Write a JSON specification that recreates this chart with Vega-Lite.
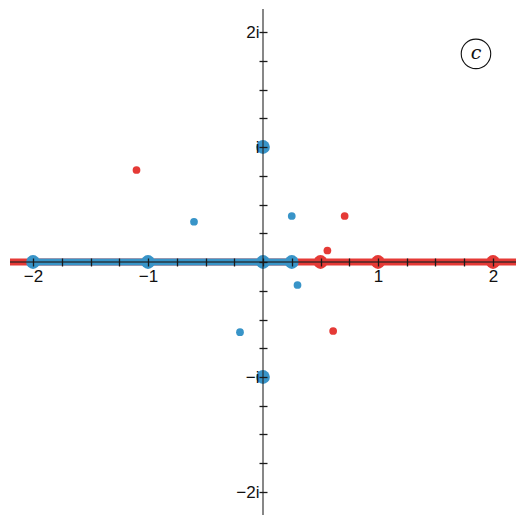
{
  "$schema": "https://vega.github.io/schema/vega-lite/v6.json",
  "width": 506,
  "height": 506,
  "autosize": {"type": "none"},
  "padding": {"left": 10, "top": 9, "right": 0, "bottom": 2},
  "background": "white",
  "config": {"view": {"stroke": null}, "axis": {"labelFontSize": 18, "labelFont": "Liberation Sans"}},
  "datasets": {
    "axislines": [
      {"axis": "real", "re": -2.2, "re2": 2.2, "im": 0, "im2": 0},
      {"axis": "imag", "re": 0, "re2": 0, "im": -2.2, "im2": 2.2}
    ],
    "lines": [
      {"set": "A", "re": -2.2, "re2": 2.2, "im": 0},
      {"set": "B", "re": -2, "re2": 0.25, "im": 0}
    ],
    "points": [
      {"set": "A", "kind": "large", "re": 0.5, "im": 0},
      {"set": "A", "kind": "large", "re": 1, "im": 0},
      {"set": "A", "kind": "large", "re": 2, "im": 0},
      {"set": "B", "kind": "large", "re": -2, "im": 0},
      {"set": "B", "kind": "large", "re": -1, "im": 0},
      {"set": "B", "kind": "large", "re": 0, "im": 0},
      {"set": "B", "kind": "large", "re": 0.25, "im": 0},
      {"set": "B", "kind": "large", "re": 0, "im": 1},
      {"set": "B", "kind": "large", "re": 0, "im": -1},
      {"set": "A", "kind": "small", "re": -1.1, "im": 0.8},
      {"set": "A", "kind": "small", "re": 0.71, "im": 0.4},
      {"set": "A", "kind": "small", "re": 0.56, "im": 0.1},
      {"set": "A", "kind": "small", "re": 0.61, "im": -0.6},
      {"set": "B", "kind": "small", "re": -0.6, "im": 0.35},
      {"set": "B", "kind": "small", "re": 0.25, "im": 0.4},
      {"set": "B", "kind": "small", "re": 0.3, "im": -0.2},
      {"set": "B", "kind": "small", "re": -0.2, "im": -0.61}
    ],
    "badge": [{"label": "c", "re": 1.852, "im": 1.81}]
  },
  "encoding": {
    "x": {"field": "re", "type": "quantitative",
      "scale": {"domain": [-2.2, 2.2], "nice": false, "zero": false},
      "axis": {
        "orient": "bottom", "offset": -257, "domain": false, "grid": false,
        "values": [-2, -1.75, -1.5, -1.25, -1, -0.75, -0.5, -0.25, 0, 0.25, 0.5, 0.75, 1, 1.25, 1.5, 1.75, 2],
        "tickSize": 8, "tickColor": "#1a1a1a", "tickWidth": 1.3,
        "labelPadding": 2, "labelFont": "Liberation Sans", "labelFontSize": 17, "labelColor": "#111",
        "labelOverlap": false, "labelFlush": false,
        "labelExpr": "datum.value == 2 ? '2' : datum.value == 1 ? '1' : datum.value == -1 ? '\u22121' : datum.value == -2 ? '\u22122' : ''",
        "title": null, "zindex": 1
      }
    },
    "y": {"field": "im", "type": "quantitative",
      "scale": {"domain": [-2.2, 2.2], "nice": false, "zero": false},
      "axis": {
        "orient": "left", "offset": -257, "domain": false, "grid": false,
        "values": [-2, -1.75, -1.5, -1.25, -1, -0.75, -0.5, -0.25, 0, 0.25, 0.5, 0.75, 1, 1.25, 1.5, 1.75, 2],
        "tickSize": 8, "tickColor": "#1a1a1a", "tickWidth": 1.3,
        "labelPadding": 0, "labelFont": "Liberation Sans", "labelFontSize": 17, "labelColor": "#111",
        "labelOverlap": false, "labelFlush": false,
        "labelExpr": "datum.value == 2 ? '2i' : datum.value == 1 ? 'i' : datum.value == -1 ? '\u2212i' : datum.value == -2 ? '\u22122i' : ''",
        "title": null, "zindex": 1
      }
    }
  },
  "layer": [
    {
      "data": {"name": "lines"},
      "mark": {"type": "rule", "strokeWidth": 7, "opacity": 1},
      "encoding": {
        "x2": {"field": "re2"},
        "color": {"field": "set", "type": "nominal",
          "scale": {"domain": ["A", "B"], "range": ["#e53a36", "#3894c8"]}, "legend": null}
      }
    },
    {
      "data": {"name": "points"},
      "mark": {"type": "circle", "opacity": 1},
      "encoding": {
        "color": {"field": "set", "type": "nominal", "legend": null},
        "size": {"field": "kind", "type": "nominal",
          "scale": {"domain": ["large", "small"], "range": [190, 60]}, "legend": null}
      }
    },
    {
      "data": {"name": "axislines"},
      "mark": {"type": "rule", "color": "#222", "strokeWidth": 1.8, "opacity": 0.6},
      "encoding": {
        "x2": {"field": "re2"},
        "y2": {"field": "im2"}
      }
    },
    {
      "data": {"name": "badge"},
      "mark": {"type": "point", "shape": "circle", "filled": false, "size": 870, "stroke": "#111", "strokeWidth": 1.1, "opacity": 1}
    },
    {
      "data": {"name": "badge"},
      "mark": {"type": "text", "font": "DejaVu Serif", "fontStyle": "italic", "fontSize": 19, "color": "#111", "baseline": "middle", "align": "center", "dy": -1},
      "encoding": {
        "text": {"field": "label"}
      }
    }
  ]
}
